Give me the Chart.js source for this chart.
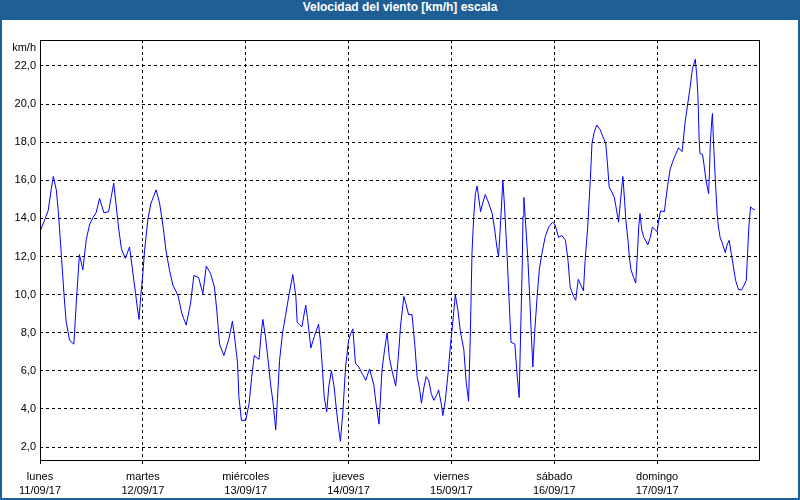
<!DOCTYPE html>
<html>
<head>
<meta charset="utf-8">
<script src="https://cdn.jsdelivr.net/npm/chart.js@4.4.1/dist/chart.umd.min.js"></script>
<style>
  body { margin: 0; background: #fff; }
  #wrap { position: relative; width: 800px; height: 500px; background: #fff; overflow: hidden; }
  #title { height: 20px; line-height: 20px; background: #1f5f95; color: #fff; text-align: center;
           font: bold 12px "Liberation Sans", sans-serif; }
  #box { position: absolute; left: 0; top: 20px; width: 800px; height: 480px; }
  #edge { position: absolute; left: 0; top: 0; width: 796px; height: 498px; border: 2px solid #1f5f95; border-top: 0; pointer-events: none; }
</style>
</head>
<body>
<div id="wrap">
  <div id="title">Velocidad del viento [km/h] escala</div>
  <div id="box"><canvas id="chart"></canvas></div>
  <div id="edge"></div>
</div>
<script>
const dayNames = ['lunes', 'martes', 'miércoles', 'jueves', 'viernes', 'sábado', 'domingo'];
const dayDates = ['11/09/17', '12/09/17', '13/09/17', '14/09/17', '15/09/17', '16/09/17', '17/09/17'];
const xTicks = [0, 24, 48, 72, 96, 120, 144];
const yTicks = [2, 4, 6, 8, 10, 12, 14, 16, 18, 20, 22];

// hours since lunes 00:00
const hours = [
  0, 1.9, 2.6, 3.1, 3.8, 4.3, 5.0, 5.6, 6.1, 6.9, 7.9, 8.5, 9.2, 10.0, 10.8, 11.6, 12.4, 13.1, 13.9, 14.9,
  16.0, 16.6, 17.2, 17.8, 18.4, 19.0, 19.9, 20.9, 21.5, 22.3, 22.7, 23.1, 23.5,
  24.0, 24.4, 25.2, 25.9, 27.1, 27.9, 28.7, 29.4, 30.2, 31.0, 32.2, 33.1, 34.1, 35.1, 35.9, 37.0, 38.0, 38.8,
  39.8, 40.7, 41.2, 41.9, 42.9, 44.1, 44.9, 45.3, 46.1, 46.4, 47.0,
  48.0, 48.8, 49.4, 50.0, 51.1, 51.6, 52.0, 52.6, 53.3, 53.8, 54.4, 55.0, 55.4, 55.9, 56.6, 57.3, 58.1, 59.0,
  59.7, 60.0, 61.1, 62.0, 62.4, 63.2, 64.0, 65.0, 65.5, 65.9, 66.3, 66.9, 67.4, 68.0, 68.6, 69.1, 69.6, 70.1,
  70.7, 71.3,
  72.0, 72.5, 73.0, 73.6, 74.4, 75.2, 76.0, 76.9, 77.9, 78.4, 79.1, 79.8, 80.4, 81.0, 81.5, 82.2, 83.0, 83.6,
  84.1, 84.9, 85.4, 86.0, 86.8, 87.5, 88.0, 88.6, 89.0, 89.6, 90.1, 90.7, 91.3, 91.9, 92.7, 93.0, 93.6, 94.0,
  94.6, 95.2, 95.8,
  96.3, 96.9, 97.5, 98.1, 98.9, 99.4, 100.0, 100.4, 100.8, 101.2, 101.6, 102.0, 102.8, 103.3, 103.9, 104.7,
  105.5, 106.1, 106.6, 107.0, 107.5, 108.0, 108.4, 109.0, 109.5, 109.9, 110.8, 111.3, 111.8, 112.2, 112.5,
  112.7, 112.9, 113.2, 113.8, 114.2, 114.6, 115.0, 115.4, 116.0, 116.5, 117.1, 117.9, 118.7, 119.6,
  120.2, 121.0, 121.8, 122.6, 123.2, 123.7, 124.5, 125.0, 125.6, 126.4, 126.8, 127.2, 127.8, 128.4, 128.8,
  129.3, 129.9, 130.7, 131.5, 132.0, 132.4, 132.8, 133.4, 134.0, 134.4, 135.0, 135.4, 136.0, 136.4, 136.7,
  137.2, 137.5, 137.9, 138.5, 139.0, 139.4, 139.7, 140.0, 140.4, 140.9, 141.4, 141.8, 142.4, 142.9, 143.5,
  144.0, 144.3, 144.8, 145.7, 146.0, 146.5, 147.0, 147.6, 148.2, 149.0, 149.8, 150.1, 150.5, 151.1, 151.7,
  152.2, 152.7, 152.9, 153.2, 153.5, 153.8, 154.0, 154.6, 155.0, 155.4, 155.8, 156.0, 156.2, 156.4, 156.7,
  156.9, 157.2, 157.5, 158.0, 158.3, 158.7, 159.2, 159.9, 160.3, 160.8, 161.3, 161.8, 162.3, 163.0, 163.7,
  164.3, 164.8, 165.1, 165.4, 165.8, 166.3, 166.8
];
const speeds = [
  13.3, 14.4, 15.5, 16.2, 15.5, 14.3, 12.0, 10.0, 8.6, 7.6, 7.4, 9.7, 12.1, 11.3, 12.9, 13.7, 14.05, 14.3, 15.05, 14.3,
  14.35, 15.1, 15.85, 14.6, 13.4, 12.4, 11.9, 12.5, 11.45, 10.05, 9.35, 8.7, 9.9,
  11.1, 12.3, 14.0, 14.8, 15.5, 14.8, 13.6, 12.3, 11.3, 10.5, 9.95, 9.0, 8.4, 9.5, 11.0, 10.9, 10.05, 11.5,
  11.1, 10.4, 9.3, 7.4, 6.8, 7.7, 8.6, 7.95, 6.4, 4.65, 3.4,
  3.4, 4.3, 5.7, 6.8, 6.6, 7.95, 8.7, 7.8, 6.4, 5.3, 4.3, 2.9, 4.5, 6.55, 8.0, 8.9, 10.0, 11.05,
  9.9, 8.55, 8.3, 9.45, 8.8, 7.2, 7.8, 8.45, 7.4, 6.1, 4.65, 3.85, 5.2, 6.0, 5.2, 4.1, 3.1, 2.3,
  3.95, 6.2,
  7.6, 7.95, 8.2, 6.4, 6.2, 5.85, 5.5, 6.1, 5.25, 4.3, 3.2, 6.05, 7.1, 8.0, 6.7, 5.95, 5.2, 6.7,
  8.3, 9.9, 9.5, 8.95, 8.95, 7.25, 5.7, 5.0, 4.3, 5.15, 5.7, 5.5, 4.8, 4.45, 4.8, 5.0, 4.3, 3.65,
  4.5, 5.85, 7.4,
  8.5, 10.0, 9.2, 8.05, 7.1, 5.5, 4.4, 7.8, 12.2, 14.1, 15.3, 15.7, 14.35, 14.8, 15.25, 14.8,
  14.25, 13.4, 12.5, 12.0, 13.9, 16.0, 14.6, 12.0, 9.5, 7.5, 7.4, 5.85, 4.6, 8.5, 11.3,
  14.1, 15.1, 14.1, 12.0, 10.2, 8.1, 6.2, 7.95, 9.9, 11.3, 12.15, 13.05, 13.55, 13.8,
  13.65, 13.0, 13.1, 12.85, 11.8, 10.4, 9.9, 9.7, 10.8, 10.4, 10.2, 11.8, 13.55, 16.0, 17.95,
  18.5, 18.9, 18.65, 18.2, 17.95, 16.9, 15.65, 15.4, 15.1, 14.6, 13.8, 14.8, 16.2, 14.95, 13.9,
  12.85, 12.0, 11.3, 10.9, 10.6, 12.15, 13.55, 14.25, 13.4, 13.0, 12.8, 12.6, 13.0, 13.55, 13.4,
  13.3, 13.8, 14.4, 14.35, 14.95, 15.8, 16.55, 16.95, 17.3, 17.7, 17.5, 18.1, 19.0, 19.95, 20.9,
  21.8, 22.2, 22.35, 21.6, 20.55, 18.1, 17.4, 17.35, 16.7, 16.0, 15.55, 15.3, 16.35, 17.9, 19.0,
  19.5, 17.75, 16.35, 14.25, 13.55, 13.0, 12.7, 12.2, 12.6, 12.85, 12.15, 11.45, 10.75, 10.25, 10.25,
  10.5, 10.75, 12.15, 13.55, 14.6, 14.5, 14.45
];

const FONT = '"Liberation Sans", sans-serif';

// marco del gráfico y unidad
const framePlugin = {
  id: 'frame',
  afterDraw(chart) {
    const { ctx, chartArea: a } = chart;
    ctx.save();
    ctx.strokeStyle = '#000';
    ctx.lineWidth = 1;
    ctx.strokeRect(a.left + 0.5, a.top + 0.5, a.right - a.left - 1, a.bottom - a.top);
    ctx.fillStyle = '#000';
    ctx.font = '11px ' + FONT;
    ctx.textAlign = 'right';
    ctx.textBaseline = 'middle';
    ctx.fillText('km/h', a.left - 4, a.top + 8);
    ctx.restore();
  }
};

new Chart(document.getElementById('chart'), {
  type: 'line',
  data: {
    datasets: [{
      data: hours.map((h, i) => ({ x: h, y: speeds[i] })),
      borderColor: '#0000ff',
      borderWidth: 1,
      pointRadius: 0,
      tension: 0,
      fill: false
    }]
  },
  options: {
    responsive: true,
    maintainAspectRatio: false,
    animation: false,
    layout: { padding: { top: 20, right: 40, left: 0, bottom: 0 } },
    plugins: { legend: { display: false }, tooltip: { enabled: false } },
    scales: {
      x: {
        type: 'linear',
        min: 0, max: 168,
        afterBuildTicks: s => { s.ticks = xTicks.map(v => ({ value: v })); },
        afterFit: s => { s.height = 40; },
        border: { display: false, dash: [3, 3] },
        grid: { color: '#000', lineWidth: 1, tickLength: 4, drawTicks: true },
        ticks: {
          autoSkip: false, maxRotation: 0, padding: 6, color: '#000',
          font: { family: FONT, size: 11, lineHeight: 1.3 },
          callback: (v) => {
            const i = xTicks.indexOf(v);
            return i >= 0 ? [dayNames[i], dayDates[i]] : '';
          }
        }
      },
      y: {
        min: 1.32, max: 23.36,
        afterBuildTicks: s => { s.ticks = yTicks.map(v => ({ value: v })); },
        afterFit: s => { s.width = 40; },
        border: { display: false, dash: [3, 3] },
        grid: { color: '#000', lineWidth: 1, drawTicks: false },
        ticks: {
          padding: 4, color: '#000',
          font: { family: FONT, size: 11 },
          callback: v => v.toFixed(1).replace('.', ',')
        }
      }
    }
  },
  plugins: [framePlugin]
});
</script>
</body>
</html>
